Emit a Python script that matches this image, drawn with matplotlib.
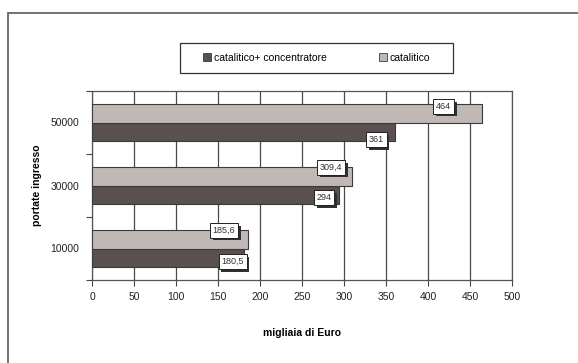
import matplotlib.pyplot as plt
import matplotlib.patheffects as pe
from matplotlib.patches import Rectangle, Patch

plt.rcParams['font.family'] = ['Liberation Sans', 'DejaVu Sans']

portate = ['10000', '30000', '50000']
catalitico_conc = [180.5, 294, 361]
catalitico = [185.6, 309.4, 464]
x_ticks = [0, 50, 100, 150, 200, 250, 300, 350, 400, 450, 500]

dark = '#5a5050'
light = '#c1b8b6'
edge = '#3a3a3a'

# label offsets in pixels from the bar end / bar centre
off_conc = [(-11, -4), (-15, -3), (-19, -8)]
off_cat = [(-24, 9), (-21, 9), (-38, 7)]

W, H = 578, 363
fig = plt.figure(figsize=(W / 100, H / 100), dpi=100)
ax = fig.add_axes([92 / W, 1 - 280 / H, 420 / W, 189 / H])

pos = list(range(len(portate)))
h = 0.29
ax.barh([p - h / 2 for p in pos], catalitico_conc, height=h, color=dark,
        edgecolor=edge, linewidth=0.8, zorder=3)
ax.barh([p + h / 2 for p in pos], catalitico, height=h, color=light,
        edgecolor=edge, linewidth=0.8, zorder=3)

ax.set_xlim(0, 500)
ax.set_ylim(-0.5, 2.5)
ax.set_xticks(x_ticks)
ax.set_xticklabels([str(t) for t in x_ticks], fontsize=7.5, color='#222222')
ax.set_yticks([-0.5, 0.5, 1.5, 2.5])
ax.set_yticklabels([])
ax.set_yticks(pos, minor=True)
ax.set_yticklabels(portate, minor=True, fontsize=7.5, color='#222222')
ax.tick_params(axis='y', which='minor', length=0, pad=9)
ax.tick_params(axis='y', which='major', length=4, width=0.8, color='#444444')
ax.tick_params(axis='x', length=4, width=0.8, color='#444444', pad=5)
ax.grid(axis='x', color='#4a4a4a', linewidth=0.9, zorder=0)
for s in ax.spines.values():
    s.set_color('#555555')
    s.set_linewidth(0.9)

ax.set_xlabel('migliaia di Euro', fontsize=7.5, fontweight='bold', labelpad=18)
ax.set_ylabel('portate ingresso', fontsize=7.5, fontweight='bold', labelpad=6)


def fmt(v):
    return f'{v:g}'.replace('.', ',')


def value_label(x, y, off):
    ann = ax.annotate(fmt(x), (x, y), xytext=off, textcoords='offset pixels',
                      ha='center', va='center', fontsize=6.5, color='#333333',
                      zorder=6,
                      bbox=dict(boxstyle='square,pad=0.3', fc='white',
                                ec='#222222', lw=0.7))
    ann.get_bbox_patch().set_path_effects(
        [pe.SimplePatchShadow(offset=(2, -2), shadow_rgbFace='#303030', alpha=1),
         pe.Normal()])


for p, v, o in zip(pos, catalitico_conc, off_conc):
    value_label(v, p - h / 2, o)
for p, v, o in zip(pos, catalitico, off_cat):
    value_label(v, p + h / 2, o)

# outer chart frame (runs off the right and bottom edges)
fig.patches.append(Rectangle((7.5 / W, -0.1), 1.2, 1 - 13 / H + 0.1,
                             transform=fig.transFigure, fill=False,
                             ec='#666666', lw=1.3))

# legend box
fig.patches.append(Rectangle((180 / W, 1 - 73 / H), 273 / W, 30 / H,
                             transform=fig.transFigure, fill=False,
                             ec='#333333', lw=0.9))
handles = [Patch(fc=dark, ec=edge, lw=0.6), Patch(fc=light, ec=edge, lw=0.6)]
fig.legend(handles, ['catalitico+ concentratore', 'catalitico'],
           ncol=2, loc='center', bbox_to_anchor=(316.5 / W, 1 - 58 / H),
           fontsize=7.5, handlelength=0.8, handleheight=0.8,
           handletextpad=0.25, columnspacing=5.0, frameon=False)

fig.savefig('out.png', dpi=100)
